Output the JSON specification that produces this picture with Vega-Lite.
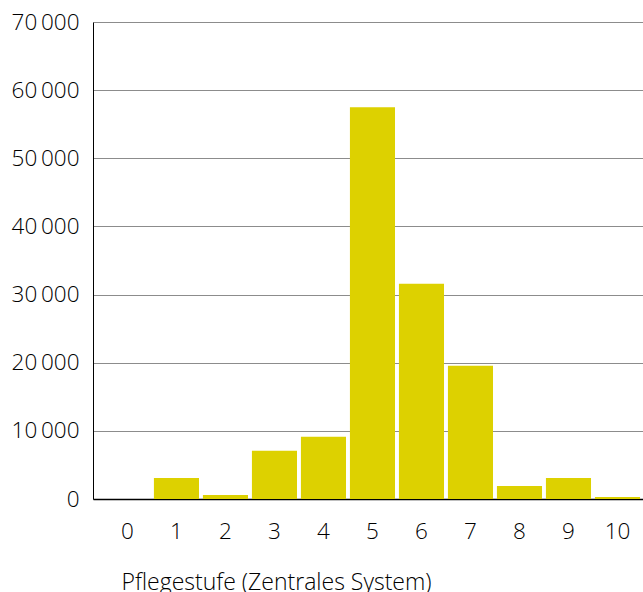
{
  "$schema": "https://vega.github.io/schema/vega-lite/v6.json",
  "width": 550,
  "height": 477,
  "autosize": {"type": "none"},
  "padding": {"left": 93, "top": 22, "right": 0, "bottom": 93},
  "config": {
    "view": {"stroke": null},
    "font": "Open Sans",
    "locale": {"number": {"decimal": ",", "thousands": "\u2009", "grouping": [3], "currency": ["", " €"]}}
  },
  "data": {
    "values": [
      {"stufe": "0", "anzahl": 0},
      {"stufe": "1", "anzahl": 3080},
      {"stufe": "2", "anzahl": 590},
      {"stufe": "3", "anzahl": 7080},
      {"stufe": "4", "anzahl": 9130},
      {"stufe": "5", "anzahl": 57500},
      {"stufe": "6", "anzahl": 31600},
      {"stufe": "7", "anzahl": 19560},
      {"stufe": "8", "anzahl": 1900},
      {"stufe": "9", "anzahl": 3080},
      {"stufe": "10", "anzahl": 300}
    ]
  },
  "mark": {"type": "bar", "color": "#ddd100"},
  "encoding": {
    "x": {
      "field": "stufe",
      "type": "ordinal",
      "sort": null,
      "scale": {"paddingInner": 0.08, "paddingOuter": 0.152, "align": 0.8},
      "axis": {
        "title": "Pflegestufe (Zentrales System)",
        "titleFont": "Open Sans",
        "titleFontSize": 23,
        "titleFontWeight": 300,
        "titleColor": "#000000",
        "titleAnchor": "start",
        "titleAlign": "left",
        "titleX": 28,
        "titleY": 90,
        "titleBaseline": "alphabetic",
        "labelAngle": 0,
        "labelFont": "Open Sans",
        "labelFontSize": 22.5,
        "labelFontWeight": 300,
        "labelColor": "#000000",
        "labelPadding": 21,
        "ticks": false,
        "domainColor": "#000000",
        "domainWidth": 1.5
      }
    },
    "y": {
      "field": "anzahl",
      "type": "quantitative",
      "scale": {"domain": [0, 70000], "nice": false},
      "axis": {
        "title": null,
        "values": [0, 10000, 20000, 30000, 40000, 50000, 60000, 70000],
        "format": ",d",
        "labelFont": "Open Sans",
        "labelFontSize": 22.5,
        "labelFontWeight": 300,
        "labelColor": "#000000",
        "labelPadding": 14,
        "ticks": false,
        "domainColor": "#000000",
        "domainWidth": 1,
        "grid": true,
        "gridColor": "#8c8c8c",
        "gridWidth": 1
      }
    }
  }
}
